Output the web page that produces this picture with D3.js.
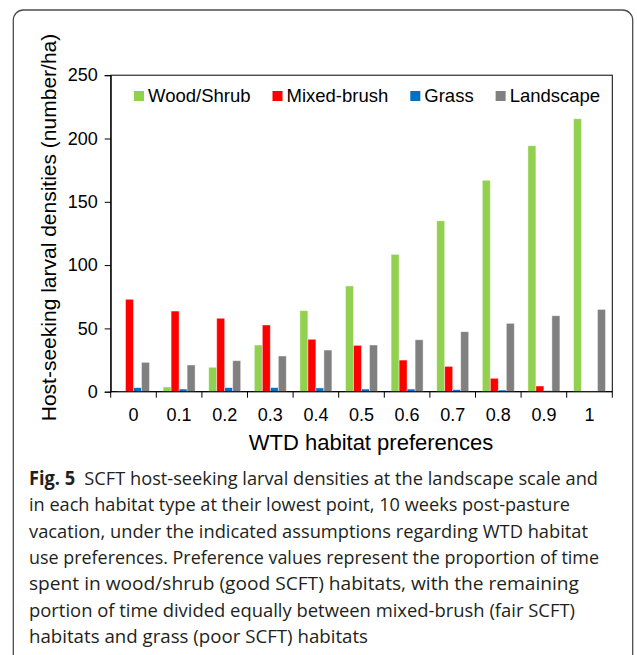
<!DOCTYPE html>
<html>
<head>
<meta charset="utf-8">
<script src="https://cdn.jsdelivr.net/npm/d3@7"></script>
<style>
  body { margin: 0; background: #fff; }
  svg { display: block; }
</style>
</head>
<body>
<svg id="chart"></svg>
<script>
// data
var categories = ["0", "0.1", "0.2", "0.3", "0.4", "0.5", "0.6", "0.7", "0.8", "0.9", "1"];
var seriesNames = ["Wood/Shrub", "Mixed-brush", "Grass", "Landscape"];
var woodShrub = [0.3, 3.7, 19.3, 36.9, 64, 83.5, 108.5, 135, 167, 194.3, 215.6];
var mixedBrush = [73, 63.7, 58, 52.7, 41.4, 36.6, 25, 20, 10.6, 4.5, 0.5];
var grass = [3.2, 2.1, 3.2, 3.2, 3, 2.1, 2.1, 1.6, 1.3, 0.8, 0.2];
var landscape = [23.2, 21.1, 24.5, 28.2, 32.9, 36.9, 41, 47.4, 54, 60, 65];
var yTicks = [0, 50, 100, 150, 200, 250];
var colors = ["#92d050", "#ff0000", "#0070c0", "#808080"];

var yTitle = "Host-seeking larval densities (number/ha)";
var xTitle = "WTD habitat preferences";
var captionLines = [
    "SCFT host-seeking larval densities at the landscape scale and",
    "in each habitat type at their lowest point, 10 weeks post-pasture",
    "vacation, under the indicated assumptions regarding WTD habitat",
    "use preferences. Preference values represent the proportion of time",
    "spent in wood/shrub (good SCFT) habitats, with the remaining",
    "portion of time divided equally between mixed-brush (fair SCFT)",
    "habitats and grass (poor SCFT) habitats"
];
var captionWidths = [569, 541, 559, 570, 550, 546, 339];

var values = [woodShrub, mixedBrush, grass, landscape];
var table = categories.map((c, i) => ({
    cat: c,
    vals: seriesNames.map((s, j) => ({ key: s, value: values[j][i], color: colors[j] }))
}));

var width = 637, height = 655;
var plotLeft = 110.7, plotRight = 612.3, plotTop = 75.2, plotBottom = 391.7;
var axisFont = "'Liberation Sans', Arial, sans-serif";

var svg = d3.select("#chart")
    .attr("width", width)
    .attr("height", height);

// outer figure frame (runs past the bottom edge)
svg.append("rect")
    .attr("x", 13.3)
    .attr("y", 10)
    .attr("width", 619.4)
    .attr("height", 700)
    .attr("rx", 10)
    .attr("fill", "none")
    .attr("stroke", "#4d4d4d")
    .attr("stroke-width", 1.3);

var x0 = d3.scaleBand()
    .domain(categories)
    .range([plotLeft, plotRight])
    .padding(0);

var x1 = d3.scaleBand()
    .domain(seriesNames)
    .range([0, x0.bandwidth()])
    .paddingInner(0)
    .paddingOuter(0.85);

var y = d3.scaleLinear()
    .domain([0, 250])
    .range([plotBottom, plotTop]);

// plot area box
svg.append("rect")
    .attr("x", plotLeft)
    .attr("y", plotTop)
    .attr("width", plotRight - plotLeft)
    .attr("height", plotBottom - plotTop)
    .attr("fill", "none")
    .attr("stroke", "#000")
    .attr("stroke-width", 1);

// bars
svg.append("g")
    .selectAll("g")
    .data(table)
    .join("g")
    .attr("transform", d => `translate(${x0(d.cat)},0)`)
    .selectAll("rect")
    .data(d => d.vals)
    .join("rect")
    .attr("x", d => x1(d.key))
    .attr("y", d => y(d.value))
    .attr("width", x1.bandwidth())
    .attr("height", d => y(0) - y(d.value))
    .attr("fill", d => d.color)
    .attr("stroke", "#fff")
    .attr("stroke-opacity", 0.55)
    .attr("stroke-width", 0.8);

// y axis
svg.append("g")
    .attr("transform", `translate(${plotLeft},0)`)
    .call(d3.axisLeft(y).tickValues(yTicks).tickSize(6).tickPadding(7).tickFormat(d3.format("d")))
    .call(g => g.selectAll("text").attr("font-size", 18).attr("font-family", axisFont).attr("fill", "#000"))
    .call(g => g.selectAll("line, path").attr("stroke", "#000"));

// x axis: ticks sit on the category boundaries
var boundaries = categories.map(c => x0(c)).concat([plotRight]);
var xAxis = svg.append("g");
xAxis.append("line")
    .attr("x1", plotLeft).attr("x2", plotRight)
    .attr("y1", plotBottom).attr("y2", plotBottom)
    .attr("stroke", "#000");
xAxis.selectAll(".tk")
    .data(boundaries)
    .join("line")
    .attr("class", "tk")
    .attr("x1", d => d).attr("x2", d => d)
    .attr("y1", plotBottom).attr("y2", plotBottom + 6)
    .attr("stroke", "#000");
xAxis.selectAll("text")
    .data(categories)
    .join("text")
    .attr("x", d => x0(d) + x0.bandwidth() / 2)
    .attr("y", 421)
    .attr("text-anchor", "middle")
    .attr("font-size", 18)
    .attr("font-family", axisFont)
    .text(d => d);

// axis titles
svg.append("text")
    .attr("transform", "translate(56,227.5) rotate(-90)")
    .attr("text-anchor", "middle")
    .attr("font-size", 21)
    .attr("font-family", axisFont)
    .text(yTitle);

svg.append("text")
    .attr("x", 371)
    .attr("y", 450)
    .attr("text-anchor", "middle")
    .attr("font-size", 22)
    .attr("font-family", axisFont)
    .text(xTitle);

// legend
var legend = svg.append("g");
var lx = 134;
seriesNames.forEach((s, i) => {
    legend.append("rect")
        .attr("x", lx).attr("y", 91)
        .attr("width", 10).attr("height", 10)
        .attr("fill", colors[i]);
    var t = legend.append("text")
        .attr("x", lx + 14)
        .attr("y", 101.5)
        .attr("font-size", 18.5)
        .attr("font-family", axisFont)
        .text(s);
    lx += 14 + t.node().getComputedTextLength() + 22;
});

// caption
var cap = svg.append("g")
    .attr("font-family", "'Open Sans', 'Noto Sans', sans-serif")
    .attr("font-size", 19)
    .attr("fill", "#231f20");
captionLines.forEach((line, i) => {
    var t = cap.append("text")
        .attr("x", 29)
        .attr("y", 485 + i * 26.3)
        .attr("textLength", captionWidths[i])
        .attr("lengthAdjust", "spacingAndGlyphs");
    if (i === 0) {
        t.append("tspan").attr("font-weight", "bold").text("Fig. 5");
        t.append("tspan").text("\u2002" + line);
    } else {
        t.text(line);
    }
});
</script>
</body>
</html>
